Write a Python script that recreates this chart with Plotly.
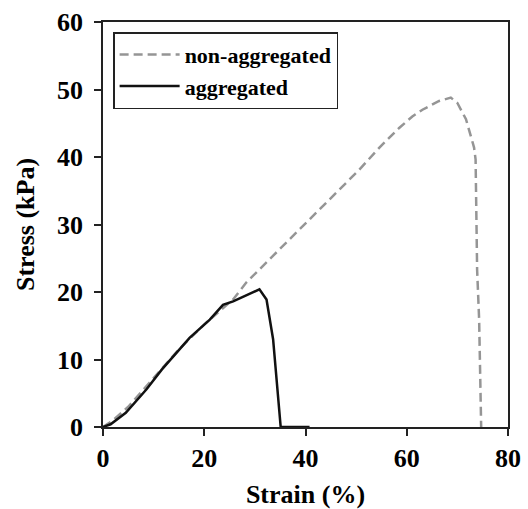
import plotly.graph_objects as go

# Non-aggregated (dashed grey) curve
non_agg_strain = [0, 2, 5, 10, 15, 20, 25.7, 28.3, 35.5, 42.1, 50.6, 54.6, 58.5, 61.1,
                  63.1, 66.4, 68.7, 70, 71.7, 73.3, 73.6, 73.9, 74.3, 74.7]
non_agg_stress = [0, 1, 3, 7.3, 11.5, 15.2, 18.9, 21.4, 26.8, 31.7, 38.1, 41.4, 44.3, 46,
                  47, 48.3, 48.8, 48, 45.6, 41.4, 39.6, 23.3, 15.9, 0]

# Aggregated (solid black) curve
agg_strain = [0, 1.5, 4.5, 8.6, 11.6, 17.1, 21.1, 23.7, 25.7, 30.9, 32.3, 33.6, 35.1, 40.8]
agg_stress = [0, 0.4, 2.1, 5.6, 8.5, 13.2, 15.9, 18.1, 18.6, 20.4, 18.9, 13, 0, 0]

x_ticks = [0, 20, 40, 60, 80]
y_ticks = [0, 10, 20, 30, 40, 50, 60]

FONT = "Liberation Serif"

fig = go.Figure()
fig.add_trace(go.Scatter(
    x=non_agg_strain, y=non_agg_stress, mode="lines", name="non-aggregated",
    line=dict(color="#959595", width=2.5, dash="9px,5px"),
))
fig.add_trace(go.Scatter(
    x=agg_strain, y=agg_stress, mode="lines", name="aggregated",
    line=dict(color="#111111", width=2.5),
))

axis_common = dict(
    showgrid=False, zeroline=False, showline=True, linecolor="#222222", linewidth=1.5,
    mirror=True, ticks="outside", ticklen=7, tickwidth=1.5, tickcolor="#222222",
    tickfont=dict(family=FONT, size=26, color="black", weight="bold"),
    automargin=False,
)

fig.update_xaxes(
    range=[0, 80], tickvals=x_ticks, ticktext=[str(v) for v in x_ticks],
    title=dict(text="<b>Strain (%)</b>", font=dict(family=FONT, size=26, color="black"),
               standoff=18),
    ticklabelstandoff=0,
    **axis_common,
)
fig.update_yaxes(
    range=[0, 60], tickvals=y_ticks, ticktext=[str(v) for v in y_ticks],
    title=dict(text="<b>Stress (kPa)</b>", font=dict(family=FONT, size=26, color="black")),
    ticklabelstandoff=6,
    **axis_common,
)

fig.update_layout(
    width=528, height=509,
    margin=dict(l=103, r=20, t=22, b=82),
    paper_bgcolor="white", plot_bgcolor="white",
    showlegend=True,
    legend=dict(
        x=0.025, y=0.975, xanchor="left", yanchor="top",
        bordercolor="#222222", borderwidth=1.5, bgcolor="white",
        font=dict(family=FONT, size=22, color="black", weight="bold"),
        tracegroupgap=0, itemwidth=60,
    ),
)

fig.write_html("out.html")
